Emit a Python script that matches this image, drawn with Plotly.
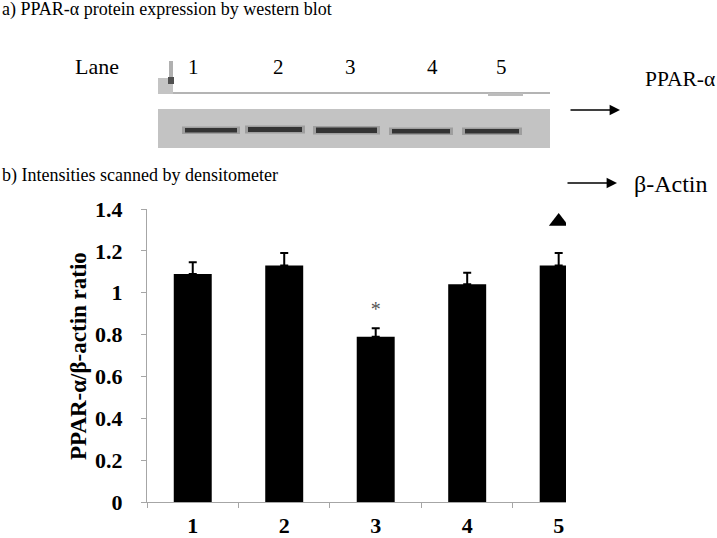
import plotly.graph_objects as go

# ---------------- data ----------------
lanes = ["1", "2", "3", "4", "5"]
ratio = [1.09, 1.13, 0.79, 1.04, 1.13]
ratio_err = [0.055, 0.06, 0.04, 0.055, 0.06]
y_tick_vals = [0, 0.2, 0.4, 0.6, 0.8, 1.0, 1.2, 1.4]
y_tick_text = ["0", "0.2", "0.4", "0.6", "0.8", "1", "1.2", "1.4"]
sig_lanes = ["3"]
sig_y = [0.915]
tri_lanes = ["5"]
tri_y = [1.34]

W, H = 717, 538
SERIF = "Liberation Serif, Times New Roman, serif"


def px(x):
    return x / W


def py(y):
    return 1 - y / H


fig = go.Figure()

fig.add_trace(go.Bar(
    x=lanes, y=ratio, width=0.415,
    marker=dict(color="black", line=dict(width=0)),
    error_y=dict(type="data", array=ratio_err, arrayminus=[0] * len(lanes),
                 symmetric=False, color="black", thickness=2, width=4),
    hoverinfo="skip",
))

fig.add_trace(go.Scatter(
    x=tri_lanes, y=tri_y, mode="markers",
    marker=dict(symbol="triangle-up", size=17, color="black"),
    hoverinfo="skip",
))

fig.add_trace(go.Scatter(
    x=sig_lanes, y=sig_y, mode="text", text=["*"],
    textfont=dict(family=SERIF, size=20, color="#555555"),
    hoverinfo="skip",
))

shapes = []


def rect(x0, y0, x1, y1, color):
    shapes.append(dict(type="rect", xref="paper", yref="paper",
                       x0=px(x0), x1=px(x1), y0=py(y1), y1=py(y0),
                       fillcolor=color, line=dict(width=0), layer="above"))


# western blot picture (decorative)
rect(158, 109, 550, 148, "#c3c3c3")
rect(173, 92, 550, 94, "#b4b4b4")
rect(488, 93, 523, 96, "#bcbcbc")
rect(158, 78, 173, 94, "#c4c4c4")
rect(169, 61, 173, 80, "#b0b0b0")
rect(168, 77, 174, 84, "#505050")
bands = [(182, 240, 128, 132.5), (245, 305, 127, 132), (313, 380, 127.5, 133),
         (389, 453, 129, 133.5), (462, 522, 129, 133.5)]
for x0, x1, y0, y1 in bands:
    rect(x0, y0 - 1.5, x1, y1 + 1.5, "#9e9e9e")
    rect(x0 + 3, y0, x1 - 3, y1, "#333333")

annotations = []


def text(x, y, s, size, anchor="left", bold=False):
    annotations.append(dict(
        xref="paper", yref="paper", x=px(x), y=py(y), text=s,
        showarrow=False, xanchor=anchor, yanchor="middle",
        font=dict(family=SERIF, size=size, color="black",
                  weight="bold" if bold else "normal")))


text(0, 9, "a) PPAR-α protein expression by western blot", 18)
text(0, 175, "b) Intensities scanned by densitometer", 18)
text(73, 66, "Lane", 22)
for lab, xc in zip(lanes, [193, 278, 350, 432, 501]):
    text(xc, 67, lab, 21, anchor="center")
text(643, 79, "PPAR-α", 21.5)
text(632, 184, "β-Actin", 24)

for y, x0, x1 in [(110, 569, 620), (183, 566, 617)]:
    annotations.append(dict(
        xref="paper", yref="paper", x=px(x1), y=py(y),
        axref="pixel", ayref="pixel", ax=-(x1 - x0), ay=0,
        showarrow=True, arrowhead=2, arrowsize=1.3, arrowwidth=1.6,
        arrowcolor="black", text=""))

annotations.append(dict(
    xref="paper", yref="paper", x=px(78), y=py(356),
    text="PPAR-α/β-actin ratio", textangle=-90, showarrow=False,
    xanchor="center", yanchor="middle",
    font=dict(family=SERIF, size=23, color="black", weight="bold")))

fig.update_layout(
    width=W, height=H, autosize=False,
    margin=dict(l=0, r=0, t=0, b=0, pad=0, autoexpand=False),
    paper_bgcolor="white", plot_bgcolor="white",
    showlegend=False,
    shapes=shapes, annotations=annotations,
    xaxis=dict(
        type="category", range=[-0.5, 4.08], automargin=False,
        domain=[px(147), px(566)],
        showline=True, linecolor="#a6a6a6", linewidth=1,
        ticks="outside", tickson="boundaries", ticklen=5,
        tickcolor="#a6a6a6", showgrid=False, zeroline=False,
        ticklabelstandoff=4,
        tickfont=dict(family=SERIF, size=22, color="black", weight="bold"),
    ),
    yaxis=dict(
        range=[0, 1.4], domain=[1 - 502 / H, 1 - 209 / H], automargin=False,
        tickvals=y_tick_vals, ticktext=y_tick_text,
        showline=True, linecolor="#a6a6a6", linewidth=1,
        ticks="outside", ticklen=5, tickcolor="#a6a6a6",
        showgrid=False, zeroline=False, ticklabelstandoff=14,
        tickfont=dict(family=SERIF, size=22, color="black", weight="bold"),
    ),
)

fig.write_html(
    "out.html",
    config={"displayModeBar": False, "responsive": False},
    post_script="document.body.style.margin='0';document.body.style.overflow='hidden';",
)
